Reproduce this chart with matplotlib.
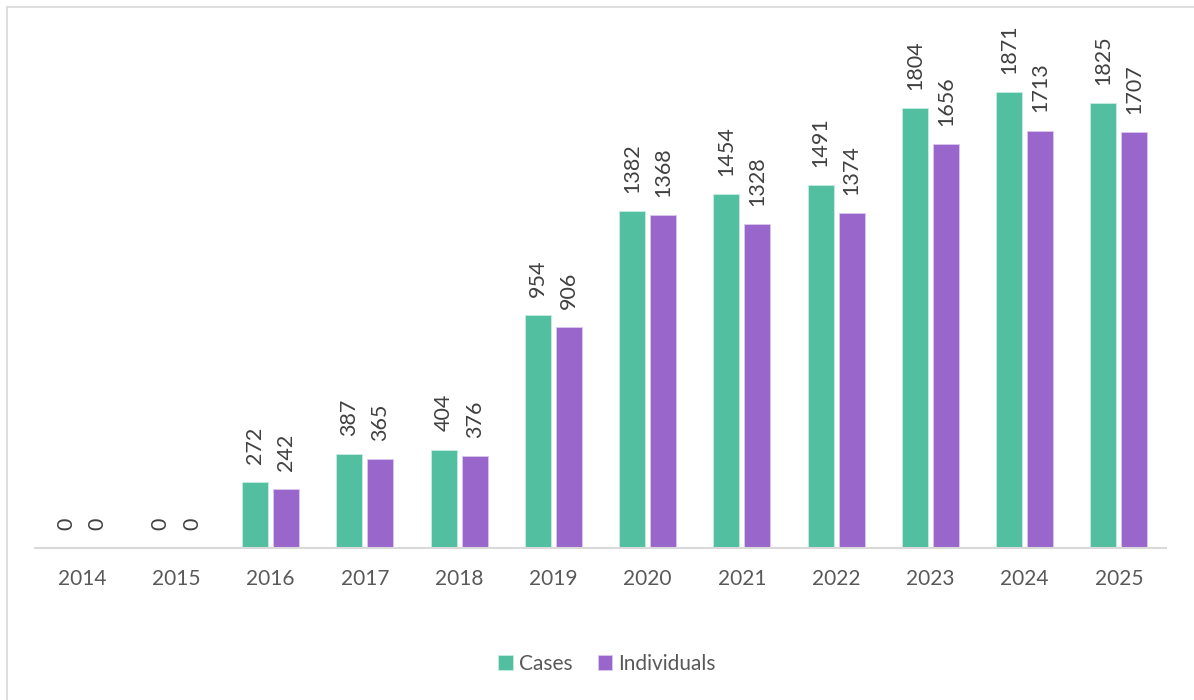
import matplotlib
matplotlib.use('Agg')
from matplotlib import pyplot as plt
from matplotlib.lines import Line2D
import numpy as np

years = ['2014', '2015', '2016', '2017', '2018', '2019',
         '2020', '2021', '2022', '2023', '2024', '2025']
cases = [0, 0, 272, 387, 404, 954, 1382, 1454, 1491, 1804, 1871, 1825]
individuals = [0, 0, 242, 365, 376, 906, 1368, 1328, 1374, 1656, 1713, 1707]

green = '#52BFA1'
purple = '#9966CC'
text_col = '#595959'

plt.rcParams['font.family'] = ['Lato', 'DejaVu Sans']

fig = plt.figure(figsize=(11.94, 7), dpi=100)
ax = fig.add_axes([35 / 1194, 152 / 700, 1131 / 1194, 528 / 700])

x = np.arange(len(years))
w = 0.276
off = 0.165

b1 = ax.bar(x - off, cases, w, color=green, edgecolor='#c8ece2', linewidth=0.6, label='Cases')
b2 = ax.bar(x + off, individuals, w, color=purple, edgecolor='#dcc8f0', linewidth=0.6, label='Individuals')

# value labels, rotated like the original
for bars in (b1, b2):
    for r in bars:
        h = r.get_height()
        ax.annotate(str(int(h)), (r.get_x() + r.get_width() / 2, h),
                    xytext=(0, 13), textcoords='offset points',
                    rotation=90, ha='center', va='bottom',
                    fontsize=15.5, color='#404040')

ax.set_xlim(-0.5, len(years) - 0.5)
ax.set_ylim(0, 528 / (456 / 1871))
ax.set_xticks(x)
ax.set_xticklabels(years, fontsize=15, color=text_col)
ax.tick_params(axis='x', length=0, pad=15)
ax.set_yticks([])

for s in ['top', 'left', 'right']:
    ax.spines[s].set_visible(False)
ax.spines['bottom'].set_color('#d9d9d9')
ax.spines['bottom'].set_linewidth(1.5)

fig.legend(loc='center', bbox_to_anchor=(607 / 1194, 1 - 664 / 700), ncol=2,
           frameon=False, fontsize=15, labelcolor=text_col,
           handlelength=0.7, handleheight=0.7, handletextpad=0.3, columnspacing=1.2)

# chart frame, only left and top edges visible
fig.add_artist(Line2D([7 / 1194, 7 / 1194], [0, 1 - 7 / 700], color='#d9d9d9', lw=1.2))
fig.add_artist(Line2D([7 / 1194, 1], [1 - 7 / 700, 1 - 7 / 700], color='#d9d9d9', lw=1.2))

fig.savefig('out.png', dpi=100)
